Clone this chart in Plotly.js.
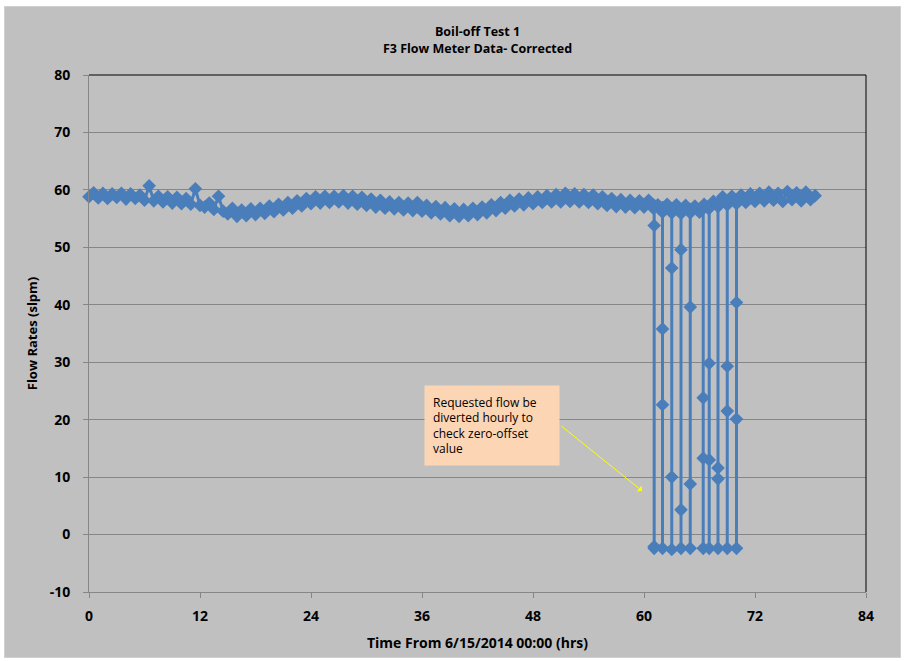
<!DOCTYPE html>
<html>
<head>
<meta charset="utf-8">
<script src="https://cdn.plot.ly/plotly-3.0.1.min.js"></script>
<style>
  html, body { margin: 0; padding: 0; background: #ffffff; }
  #wrap { position: absolute; left: 4px; top: 6px; width: 895px; height: 650px; border: 1px solid #d0d0d0; background: #c0c0c0; }
  #chart { width: 895px; height: 650px; }
</style>
</head>
<body>
<div id="wrap"><div id="chart"></div></div>
<script>
// Baseline flow readings (hours, slpm)
const baseHours = [
  0, 0.5, 1, 1.5, 2, 2.5, 3, 3.5, 4, 4.5, 5, 5.5, 6, 6.5, 7, 7.5, 8, 8.5, 9, 9.5,
  10, 10.5, 11, 11.5, 12, 12.5, 13, 13.5, 14, 14.5, 15, 15.5, 16, 16.5, 17, 17.5, 18, 18.5, 19, 19.5,
  20, 20.5, 21, 21.5, 22, 22.5, 23, 23.5, 24, 24.5, 25, 25.5, 26, 26.5, 27, 27.5, 28, 28.5, 29, 29.5,
  30, 30.5, 31, 31.5, 32, 32.5, 33, 33.5, 34, 34.5, 35, 35.5, 36, 36.5, 37, 37.5, 38, 38.5, 39, 39.5,
  40, 40.5, 41, 41.5, 42, 42.5, 43, 43.5, 44, 44.5, 45, 45.5, 46, 46.5, 47, 47.5, 48, 48.5, 49, 49.5,
  50, 50.5, 51, 51.5, 52, 52.5, 53, 53.5, 54, 54.5, 55, 55.5, 56, 56.5, 57, 57.5, 58, 58.5, 59, 59.5,
  60, 60.5, 61, 61.5, 62, 62.5, 63, 63.5, 64, 64.5, 65, 65.5, 66, 66.5, 67, 67.5, 68, 68.5, 69, 69.5,
  70, 70.5, 71, 71.5, 72, 72.5, 73, 73.5, 74, 74.5, 75, 75.5, 76, 76.5, 77, 77.5, 78, 78.5
];
const baseFlow = [
  58.8, 59.5, 58.6, 59.4, 58.5, 59.3, 58.7, 59.4, 58.4, 59.3, 58.5, 59.1, 58.2, 60.7, 58.1, 58.9, 57.9, 58.8, 57.7, 58.7,
  57.6, 58.5, 57.5, 60.2, 57.3, 57.0, 57.7, 56.6, 58.9, 56.3, 55.8, 56.8, 55.4, 56.5, 55.5, 56.7, 55.7, 56.8, 55.9, 57.2,
  56.2, 57.5, 56.5, 57.8, 56.8, 58.1, 57.2, 58.5, 57.6, 58.8, 57.7, 58.9, 57.8, 58.9, 57.9, 59.0, 57.7, 58.9, 57.5, 58.7,
  57.3, 58.4, 57.0, 58.2, 56.8, 57.9, 56.7, 57.8, 56.5, 57.7, 56.4, 57.8, 56.3, 57.3, 56.0, 57.1, 55.8, 56.9, 55.5, 56.7,
  55.4, 56.6, 55.5, 56.8, 55.7, 57.0, 56.0, 57.4, 56.4, 57.8, 56.8, 58.2, 57.2, 58.4, 57.4, 58.6, 57.6, 58.8, 57.8, 59.0,
  57.9, 59.2, 57.9, 59.4, 58.0, 59.3, 57.9, 59.2, 57.8, 59.1, 57.6, 58.8, 57.3, 58.5, 57.1, 58.3, 57.0, 58.2, 56.9, 58.1,
  57.0, 58.2, 56.8, 57.4, 56.1, 57.5, 56.0, 57.4, 55.9, 57.3, 56.0, 57.2, 56.1, 57.5, 56.7, 58.0, 57.1, 58.8, 57.4, 58.9,
  57.6, 59.1, 57.8, 59.3, 58.0, 59.4, 58.1, 59.6, 58.2, 59.4, 58.0, 59.7, 58.3, 59.5, 58.1, 59.6, 58.3, 59.0
];
// Hourly zero-offset check diversions
const dipHours = [61.1, 62.0, 63.0, 64.0, 65.0, 66.4, 67.05, 68.0, 69.0, 70.0];
const dipFlow = [
  [57.3, 53.8, -2.1, -2.4, 57.0],
  [56.9, 35.8, 22.6, -2.4, 56.8],
  [56.6, 46.4, 10.0, -2.6, 56.7],
  [56.5, 49.6, 4.3, -2.4, 56.6],
  [56.5, 39.6, 8.8, -2.4, 56.6],
  [56.8, 23.8, 13.3, -2.4, 56.9],
  [57.1, 29.8, 13.0, -2.4, 57.2],
  [57.5, 11.6, 9.7, -2.4, 57.6],
  [57.9, 29.3, 21.5, -2.4, 58.0],
  [58.1, 40.4, 20.1, -2.4, 58.2]
];
const xTickVals = [0, 12, 24, 36, 48, 60, 72, 84];
const xTickText = ['0', '12', '24', '36', '48', '60', '72', '84'];
const yTickVals = [-10, 0, 10, 20, 30, 40, 50, 60, 70, 80];
const yTickText = ['-10', '0', '10', '20', '30', '40', '50', '60', '70', '80'];

// Merge baseline and dips in time order
const xs = [], ys = [];
let d = 0;
for (let i = 0; i < baseHours.length; i++) {
  while (d < dipHours.length && dipHours[d] < baseHours[i]) {
    for (const v of dipFlow[d]) { xs.push(dipHours[d]); ys.push(v); }
    d++;
  }
  xs.push(baseHours[i]); ys.push(baseFlow[i]);
}

const blue = '#4a7ebb';
const boldFam = '"Open Sans", "Noto Sans", sans-serif';
const textFam = '"Open Sans", "Noto Sans", sans-serif';
const trace = {
  x: xs, y: ys, type: 'scatter', mode: 'lines+markers',
  line: { color: blue, width: 3 },
  marker: { symbol: 'diamond', size: 10.5, color: blue, line: { width: 0 } },
  cliponaxis: false, hoverinfo: 'skip'
};

const layout = {
  width: 895, height: 650,
  paper_bgcolor: '#c0c0c0', plot_bgcolor: '#c0c0c0',
  margin: { l: 84, r: 34, t: 68, b: 65 },
  showlegend: false,
  font: { family: boldFam, color: '#000000' },
  title: {
    text: 'Boil-off Test 1<br>F3 Flow Meter Data- Corrected',
    font: { family: boldFam, size: 12.5, color: '#000000', weight: 'bold' },
    x: 0.5, xref: 'paper', xanchor: 'center',
    y: 0.955, yref: 'container', yanchor: 'top'
  },
  xaxis: {
    range: [0, 84], tickmode: 'array', tickvals: xTickVals, ticktext: xTickText,
    showgrid: false, zeroline: false,
    showline: true, linecolor: '#868686', linewidth: 1,
    ticks: 'outside', ticklen: 5, tickcolor: '#868686',
    ticklabelstandoff: 6,
    tickfont: { family: boldFam, size: 14, color: '#000000', weight: 'bold' },
    title: { text: 'Time From 6/15/2014 00:00 (hrs)', font: { family: boldFam, size: 14, color: '#000000', weight: 'bold' }, standoff: 14 }
  },
  yaxis: {
    range: [-10, 80], tickmode: 'array', tickvals: yTickVals, ticktext: yTickText,
    showgrid: true, gridcolor: '#868686', gridwidth: 1, zeroline: false,
    showline: true, linecolor: '#868686', linewidth: 1,
    ticks: 'outside', ticklen: 5, tickcolor: '#868686',
    ticklabelstandoff: 10,
    tickfont: { family: boldFam, size: 14, color: '#000000', weight: 'bold' },
    title: { text: 'Flow Rates (slpm)', font: { family: boldFam, size: 13, color: '#000000', weight: 'bold' }, standoff: 9 }
  },
  shapes: [
    { type: 'line', xref: 'paper', yref: 'paper', x0: 0, x1: 1, y0: 1, y1: 1, line: { color: '#000000', width: 1 } },
    { type: 'line', xref: 'paper', yref: 'paper', x0: 1, x1: 1, y0: 0, y1: 1, line: { color: '#000000', width: 1 } }
  ],
  annotations: [
    {
      x: 59.8, y: 7.6, xref: 'x', yref: 'y', ax: 50.9, ay: 19.1, axref: 'x', ayref: 'y',
      text: '', showarrow: true, arrowcolor: '#ffff00', arrowwidth: 1, arrowhead: 1, arrowsize: 1.3
    },
    {
      x: 43.57, y: 19.0, xref: 'x', yref: 'y', showarrow: false,
      text: 'Requested flow be<br>diverted hourly to<br>check zero-offset<br>value',
      align: 'left', valign: 'middle', width: 118, height: 63, borderpad: 8,
      bgcolor: '#fcd5b4', font: { family: textFam, size: 12, color: '#000000' }
    }
  ]
};

Plotly.newPlot('chart', [trace], layout, { displayModeBar: false, staticPlot: true });
</script>
</body>
</html>
